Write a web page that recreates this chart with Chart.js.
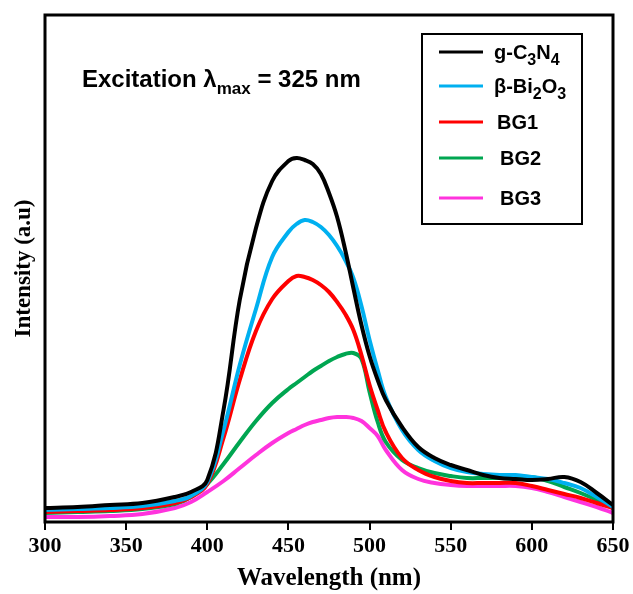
<!DOCTYPE html>
<html>
<head>
<meta charset="utf-8">
<script src="https://cdn.jsdelivr.net/npm/chart.js@4.4.1/dist/chart.umd.min.js"></script>
<style>
  html, body { margin: 0; padding: 0; background: #fff; }
  #wrap { width: 633px; height: 594px; }
</style>
</head>
<body>
<div id="wrap"><canvas id="pl-chart"></canvas></div>
<script>
// wavelength grid (nm) and PL intensities (a.u.)
const wavelengths = [300, 320, 340, 360, 380, 390, 400, 410, 420, 430, 440, 450, 455, 460, 465, 470, 475, 480, 485, 490, 495, 500, 505, 510, 520, 530, 540, 550, 560, 570, 580, 590, 600, 610, 620, 630, 640, 650];

const gC3N4 = [14, 15, 17, 19, 25, 30, 42, 112, 222, 294, 341, 361, 364, 362, 358, 348, 329, 305, 272, 234, 197, 166, 142, 122, 95, 75, 64, 57, 52, 47, 44, 43, 42, 43, 45, 40, 29, 17];
const bBi2O3 = [12, 13, 14, 16, 21, 26, 40, 92, 157, 213, 265, 290, 298, 302, 300, 295, 287, 276, 262, 244, 216, 182, 152, 125, 92, 72, 61, 54, 50, 48, 47, 47, 45, 43, 39, 34, 25, 15];
const bg1 = [10, 11, 12, 14, 19, 25, 38, 84, 142, 191, 223, 241, 246, 245, 242, 237, 230, 220, 208, 192, 167, 137, 112, 90, 64, 52, 45, 41, 39, 39, 39, 39, 36, 32, 28, 24, 19, 14];
const bg2 = [9, 10, 11, 13, 18, 25, 38, 58, 80, 101, 119, 133, 139, 145, 151, 156, 161, 165, 168, 169, 163, 130, 100, 80, 62, 54, 49, 46, 44, 44, 44, 45, 45, 41, 35, 29, 22, 14];
const bg3 = [5, 5, 6, 8, 14, 20, 30, 41, 54, 67, 79, 89, 93, 97, 100, 102, 104, 105, 105, 104, 101, 94, 86, 72, 52, 43, 39, 37, 36, 36, 36, 36, 34, 30, 25, 20, 15, 9];

const seriesLabels = ['g-C_3N_4', 'β-Bi_2O_3', 'BG1', 'BG2', 'BG3'];
const seriesColors = ['#000000', '#00b0f0', '#ff0000', '#00a651', '#ff33dd'];
const xTicks = [300, 350, 400, 450, 500, 550, 600, 650];
const noteText = 'Excitation λ_{max} = 325 nm';

// "a_{bc}" / "a_3" -> [{t, sub}]
function richParts(str) {
  const parts = [];
  const re = /_(\{[^}]*\}|.)/g;
  let last = 0;
  let m;
  while ((m = re.exec(str)) !== null) {
    if (m.index > last) parts.push({ t: str.slice(last, m.index), sub: false });
    parts.push({ t: m[1].replace(/[{}]/g, ''), sub: true });
    last = re.lastIndex;
  }
  if (last < str.length) parts.push({ t: str.slice(last), sub: false });
  return parts;
}

function drawRich(ctx, str, x, y, size, subScale) {
  let cx = x;
  richParts(str).forEach(p => {
    const fs = p.sub ? Math.round(size * subScale) : size;
    ctx.font = `bold ${fs}px "Liberation Sans", Arial, sans-serif`;
    ctx.fillText(p.t, cx, p.sub ? y + size * 0.28 : y);
    cx += ctx.measureText(p.t).width;
  });
}

const framePlugin = {
  id: 'frameAndNotes',
  afterDatasetsDraw(chart) {
    const { ctx, chartArea: a } = chart;
    ctx.save();
    ctx.strokeStyle = '#000';
    ctx.lineWidth = 3;
    ctx.strokeRect(a.left, a.top, a.right - a.left, a.bottom - a.top);

    ctx.fillStyle = '#000';
    ctx.textBaseline = 'alphabetic';
    drawRich(ctx, noteText, 82, 87, 24, 0.7);

    // legend box
    ctx.lineWidth = 2;
    ctx.strokeRect(422, 34, 160, 190);
    const rowY = [52, 86, 122, 158, 198];
    chart.data.datasets.forEach((ds, i) => {
      const y = rowY[i];
      ctx.strokeStyle = ds.borderColor;
      ctx.lineWidth = 3;
      ctx.beginPath();
      ctx.moveTo(439, y);
      ctx.lineTo(483, y);
      ctx.stroke();
      ctx.fillStyle = '#000';
      drawRich(ctx, ds.label, i >= 3 ? 500 : (i === 2 ? 497 : 494), y + 7, 20, 0.78);
    });
    ctx.restore();
  }
};

const datasets = [gC3N4, bBi2O3, bg1, bg2, bg3].map((vals, i) => ({
  label: seriesLabels[i],
  data: wavelengths.map((w, j) => ({ x: w, y: vals[j] })),
  borderColor: seriesColors[i],
  backgroundColor: seriesColors[i],
  borderWidth: 4,
  pointRadius: 0,
  tension: 0.4,
  fill: false
}));

new Chart(document.getElementById('pl-chart'), {
  type: 'line',
  data: { datasets },
  options: {
    responsive: true,
    maintainAspectRatio: false,
    animation: false,
    layout: { padding: { top: 15, right: 20, left: 0, bottom: 0 } },
    plugins: {
      legend: { display: false },
      tooltip: { enabled: false }
    },
    scales: {
      x: {
        type: 'linear',
        min: 300,
        max: 650,
        afterFit: scale => { scale.height = 72; },
        afterBuildTicks: scale => { scale.ticks = xTicks.map(v => ({ value: v })); },
        grid: { drawOnChartArea: false, drawTicks: true, tickLength: 8, color: '#000', lineWidth: 2 },
        border: { display: false },
        ticks: {
          color: '#000',
          padding: 3,
          maxRotation: 0,
          font: { family: '"Liberation Serif", "Times New Roman", serif', size: 22, weight: 'bold' }
        },
        title: {
          display: true,
          text: 'Wavelength (nm)',
          color: '#000',
          padding: { top: 0, bottom: 0 },
          font: { family: '"Liberation Serif", "Times New Roman", serif', size: 25, weight: 'bold' }
        }
      },
      y: {
        min: 0,
        max: 507,
        afterFit: scale => { scale.width = 45; },
        grid: { display: false },
        border: { display: false },
        ticks: { display: false },
        title: {
          display: true,
          text: 'Intensity (a.u)',
          color: '#000',
          padding: { top: 10, bottom: 0 },
          font: { family: '"Liberation Serif", "Times New Roman", serif', size: 23, weight: 'bold' }
        }
      }
    }
  },
  plugins: [framePlugin]
});
</script>
</body>
</html>
